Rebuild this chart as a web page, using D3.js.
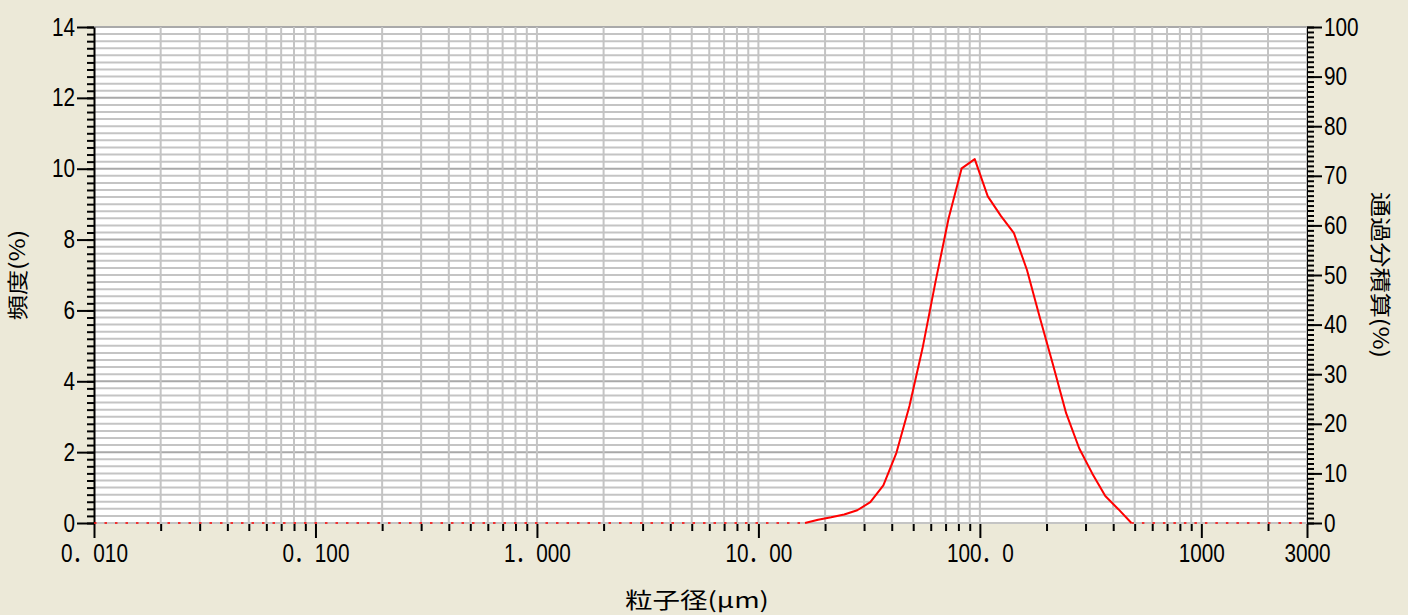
<!DOCTYPE html>
<html>
<head>
<meta charset="utf-8">
<script src="https://cdn.jsdelivr.net/npm/d3@7"></script>
<style>
html, body { margin: 0; padding: 0; background: #ece9d8; }
svg { display: block; }
</style>
</head>
<body>
<svg id="chart" width="1408" height="615"></svg>
<script>
// distribution granulométrique (frequence)
var sizes = [16.24, 18.60, 21.30, 24.40, 27.95, 32.01, 36.66, 41.99, 48.09, 55.09, 63.10, 72.27, 82.77,
             94.81, 108.6, 124.4, 142.5, 163.2, 186.9, 214.1, 245.2, 280.8, 321.6, 368.4, 422.0, 483.3];
var freq = [0, 0.09, 0.16, 0.24, 0.36, 0.59, 1.06, 1.98, 3.30, 4.93, 6.82, 8.60, 10.01,
            10.27, 9.22, 8.67, 8.18, 7.14, 5.78, 4.46, 3.10, 2.11, 1.40, 0.76, 0.39, 0];

var yTicksLeft = [0, 2, 4, 6, 8, 10, 12, 14];
var yTicksRight = [0, 10, 20, 30, 40, 50, 60, 70, 80, 90, 100];
var xTicksMajor = [0.01, 0.1, 1, 10, 100, 1000, 3000];
var xTickLabels = ["0．010", "0．100", "1．000", "10．00", "100．0", "1000", "3000"];

var pLeft = 94, pRight = 1307, pTop = 27, pBottom = 523;
var sx = 0.83; // police etroite
var labelFont = "'Liberation Sans', 'Noto Sans CJK JP', sans-serif";
var titleFont = "'Noto Sans CJK JP', sans-serif";

var svg = d3.select("#chart");

var x = d3.scaleLog().domain([0.01, 3000]).range([pLeft, pRight]);
var y = d3.scaleLinear().domain([0, 14]).range([pBottom, pTop]);
var y2 = d3.scaleLinear().domain([0, 100]).range([pBottom, pTop]);

// zone blanche
svg.append("rect")
  .attr("x", pLeft)
  .attr("y", pTop)
  .attr("width", pRight - pLeft)
  .attr("height", pBottom - pTop + 1)
  .attr("fill", "#ffffff");

// grille horizontale
var yGrid = y.ticks(70);
svg.append("g").selectAll("line")
  .data(yGrid)
  .join("line")
  .attr("x1", pLeft)
  .attr("x2", pRight)
  .attr("y1", function(d){ return y(d); })
  .attr("y2", function(d){ return y(d); })
  .attr("stroke", function(d){ return Math.abs(d/2 - Math.round(d/2)) < 1e-6 && d > 0 ? "#a9a9a9" : "#c4c4c4"; })
  .attr("stroke-width", 2);

// grille verticale
var xAll = x.ticks();
svg.append("g").selectAll("line")
  .data(xAll.filter(function(d){ return d > 0.0100001; }))
  .join("line")
  .attr("x1", function(d){ return x(d); })
  .attr("x2", function(d){ return x(d); })
  .attr("y1", pTop)
  .attr("y2", pBottom)
  .attr("stroke", "#c4c4c4")
  .attr("stroke-width", 2);

function isMajor(d){
  return xTicksMajor.some(function(m){ return Math.abs(m - d) / m < 1e-6; });
}
var xMinor = xAll.filter(function(d){ return !isMajor(d); });

function styleAxis(g){
  g.selectAll(".tick line").attr("stroke", "#000").attr("stroke-width", 2);
  g.selectAll("text")
    .attr("font-family", labelFont)
    .attr("font-size", 25)
    .attr("fill", "#000")
    .attr("x", function(){ return +this.getAttribute("x") / sx; })
    .attr("transform", "scale(" + sx + ",1)");
}

// axe gauche
svg.append("g")
  .attr("transform", "translate(" + pLeft + ",0)")
  .call(d3.axisLeft(y).tickValues(yGrid).tickSize(7).tickSizeOuter(0).tickFormat(""))
  .call(function(g){ g.select(".domain").attr("stroke", "#000").attr("stroke-width", 2); })
  .call(styleAxis);
svg.append("g")
  .attr("transform", "translate(" + pLeft + ",0)")
  .call(d3.axisLeft(y).tickValues(yTicksLeft).tickSize(17).tickSizeOuter(0).tickPadding(2))
  .call(function(g){ g.select(".domain").remove(); })
  .call(styleAxis);

// axe droit
svg.append("g")
  .attr("transform", "translate(" + pRight + ",0)")
  .call(d3.axisRight(y2).tickValues(y2.ticks(100)).tickSize(7).tickSizeOuter(0).tickFormat(""))
  .call(function(g){ g.select(".domain").attr("stroke", "#000").attr("stroke-width", 1); })
  .call(styleAxis);
svg.append("g")
  .attr("transform", "translate(" + pRight + ",0)")
  .call(d3.axisRight(y2).tickValues(yTicksRight).tickSize(15).tickSizeOuter(0).tickPadding(2))
  .call(function(g){ g.select(".domain").remove(); })
  .call(styleAxis);

// axe bas
svg.append("g")
  .attr("transform", "translate(0," + (pBottom + 1) + ")")
  .call(d3.axisBottom(x).tickValues(xMinor).tickSize(7).tickSizeOuter(0).tickFormat(""))
  .call(function(g){ g.select(".domain").remove(); })
  .call(styleAxis);
svg.append("g")
  .attr("transform", "translate(0," + (pBottom + 1) + ")")
  .call(d3.axisBottom(x).tickValues(xTicksMajor).tickSize(14).tickSizeOuter(0).tickPadding(6)
    .tickFormat(function(d, i){ return xTickLabels[i]; }))
  .call(function(g){ g.select(".domain").remove(); })
  .call(styleAxis);

// ligne de base pointillee (valeurs nulles)
var dom = x.domain();
var zeroSegs = [[dom[0], sizes[0]], [sizes[sizes.length - 1], dom[1]]];
svg.append("g").selectAll("line")
  .data(zeroSegs)
  .join("line")
  .attr("x1", function(d){ return x(d[0]); })
  .attr("x2", function(d){ return x(d[1]); })
  .attr("y1", y(0))
  .attr("y2", y(0))
  .attr("stroke", "#ff0000")
  .attr("stroke-width", 1.5)
  .attr("stroke-dasharray", "2.5,8");

// courbe de frequence
var line = d3.line()
  .x(function(d){ return x(d[0]); })
  .y(function(d){ return y(d[1]); });
svg.append("path")
  .datum(d3.zip(sizes, freq))
  .attr("d", line)
  .attr("fill", "none")
  .attr("stroke", "#ff0000")
  .attr("stroke-width", 2)
  .attr("stroke-linejoin", "round");

// titres
var midY = (pTop + pBottom) / 2;
svg.append("text")
  .attr("transform", "translate(17," + midY + ") rotate(-90) scale(1.2,1)")
  .attr("text-anchor", "middle")
  .attr("dy", "0.36em")
  .attr("font-family", titleFont)
  .attr("font-size", 21)
  .text("頻度(%)");
svg.append("text")
  .attr("transform", "translate(1381," + midY + ") rotate(90) scale(1.2,1)")
  .attr("text-anchor", "middle")
  .attr("dy", "0.36em")
  .attr("font-family", titleFont)
  .attr("font-size", 21)
  .text("通過分積算(%)");
svg.append("text")
  .attr("transform", "translate(697,600) scale(1.25,1)")
  .attr("text-anchor", "middle")
  .attr("dy", "0.36em")
  .attr("font-family", titleFont)
  .attr("font-size", 22)
  .text("粒子径(μm)");
</script>
</body>
</html>
